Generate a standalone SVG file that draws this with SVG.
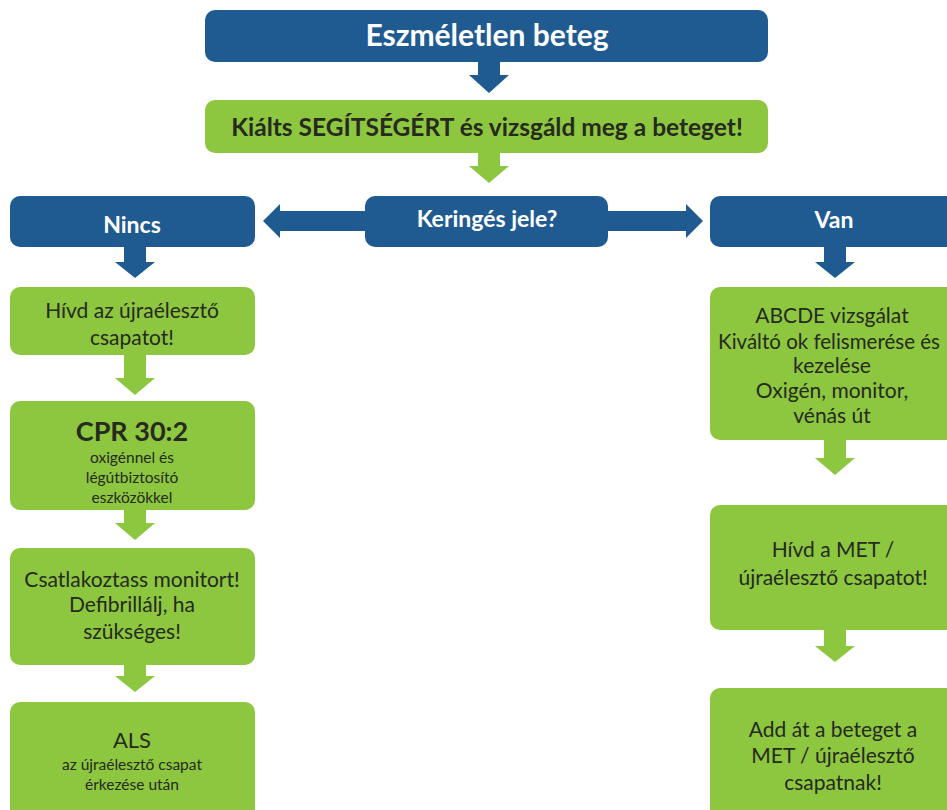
<svg xmlns="http://www.w3.org/2000/svg" width="947" height="810" viewBox="0 0 947 810">
<style>
.blue{fill:#1f5b91}
.green{fill:#8dc63f}
.tw{fill:#ffffff;font-family:Lato,"Open Sans",sans-serif;font-weight:bold;text-anchor:middle}
.td{fill:#262a1f;font-family:Lato,"Open Sans",sans-serif;text-anchor:middle}
.b{font-weight:bold}
</style>
<rect width="947" height="810" fill="#ffffff"/>
<g id="connectors">
<polygon class="blue" points="478,60 500,60 500,75 509,75 489,93 469,75 478,75"/>
<polygon class="green" points="478,152 500,152 500,166 509,166 489,183 469,166 478,166"/>
<polygon class="blue" points="367,211 280,211 280,204 263,221 280,238 280,231 367,231"/>
<polygon class="blue" points="606,211 686,211 686,204 703,221 686,238 686,231 606,231"/>
<polygon class="blue" points="124,245 146,245 146,262 155,262 135,278 115,262 124,262"/>
<polygon class="blue" points="824,245 846,245 846,262 855,262 835,278 815,262 824,262"/>
<polygon class="green" points="124,354 146,354 146,378 155,378 135,395 115,378 124,378"/>
<polygon class="green" points="124,508 146,508 146,523 155,523 135,540 115,523 124,523"/>
<polygon class="green" points="124,664 146,664 146,676 155,676 135,692 115,676 124,676"/>
<polygon class="green" points="824,439 846,439 846,458 855,458 835,475 815,458 824,458"/>
<polygon class="green" points="824,629 846,629 846,646 855,646 835,662 815,646 824,646"/>
</g>
<g id="n-eszmeletlen">
<rect class="blue" x="205" y="10" width="563" height="52" rx="10"/>
<text class="tw" x="487" y="46" font-size="30">Eszméletlen beteg</text>
</g>
<g id="n-kialts">
<rect class="green" x="205" y="100" width="563" height="53" rx="10"/>
<text class="td b" x="487" y="136" font-size="24.5">Kiálts SEGÍTSÉGÉRT és vizsgáld meg a beteget!</text>
</g>
<g id="n-kering">
<rect class="blue" x="365" y="196" width="243" height="51" rx="10"/>
<text class="tw" x="487" y="227" font-size="23">Keringés jele?</text>
</g>
<g id="n-nincs">
<rect class="blue" x="10" y="196" width="245" height="51" rx="10"/>
<text class="tw" x="132" y="233" font-size="23">Nincs</text>
</g>
<g id="n-van">
<rect class="blue" x="710" y="196" width="255" height="51" rx="10"/>
<text class="tw" x="834" y="228" font-size="23">Van</text>
</g>
<g id="n-hivd">
<rect class="green" x="10" y="287" width="245" height="68" rx="10"/>
<text class="td" x="132" y="318" font-size="21">Hívd az újraélesztő</text>
<text class="td" x="132" y="345" font-size="21">csapatot!</text>
</g>
<g id="n-cpr">
<rect class="green" x="10" y="401" width="245" height="109" rx="10"/>
<text class="td b" x="132" y="441" font-size="27">CPR 30:2</text>
<text class="td" x="132" y="463" font-size="15.5">oxigénnel és</text>
<text class="td" x="132" y="483" font-size="15.5">légútbiztosító</text>
<text class="td" x="132" y="503" font-size="15.5">eszközökkel</text>
</g>
<g id="n-csatl">
<rect class="green" x="10" y="548" width="245" height="117" rx="10"/>
<text class="td" x="132" y="587" font-size="21">Csatlakoztass monitort!</text>
<text class="td" x="132" y="612" font-size="21">Defibrillálj, ha</text>
<text class="td" x="132" y="639" font-size="21">szükséges!</text>
</g>
<g id="n-als">
<rect class="green" x="10" y="702" width="245" height="120" rx="10"/>
<text class="td" x="132" y="748" font-size="22">ALS</text>
<text class="td" x="132" y="770" font-size="15.5">az újraélesztő csapat</text>
<text class="td" x="132" y="790" font-size="15.5">érkezése után</text>
</g>
<g id="n-abcde">
<rect class="green" x="710" y="287" width="255" height="153" rx="10"/>
<text class="td" x="832" y="323" font-size="21">ABCDE vizsgálat</text>
<text class="td" x="829" y="349" font-size="20.5">Kiváltó ok felismerése és</text>
<text class="td" x="832" y="373" font-size="21">kezelése</text>
<text class="td" x="832" y="398" font-size="21">Oxigén, monitor,</text>
<text class="td" x="832" y="423" font-size="21">vénás út</text>
</g>
<g id="n-met">
<rect class="green" x="710" y="505" width="255" height="125" rx="10"/>
<text class="td" x="833" y="557" font-size="21">Hívd a MET /</text>
<text class="td" x="833" y="585" font-size="21">újraélesztő csapatot!</text>
</g>
<g id="n-add">
<rect class="green" x="710" y="688" width="255" height="135" rx="10"/>
<text class="td" x="833" y="737" font-size="21">Add át a beteget a</text>
<text class="td" x="833" y="763" font-size="21">MET / újraélesztő</text>
<text class="td" x="833" y="790" font-size="21">csapatnak!</text>
</g>
</svg>
